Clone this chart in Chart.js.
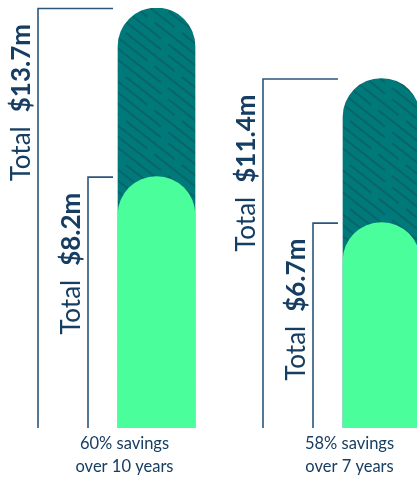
<!DOCTYPE html>
<html>
<head>
<meta charset="utf-8">
<script src="https://cdn.jsdelivr.net/npm/chart.js@4.4.1/dist/chart.umd.min.js"></script>
<style>
  html, body { margin: 0; padding: 0; background: #fff; overflow: hidden; }
  #wrap { width: 417px; height: 478px; overflow: hidden; }
</style>
</head>
<body>
<div id="wrap"><canvas id="chart" width="500" height="478"></canvas></div>
<script>
const categories = ["10 years", "7 years"]
const totalCost = [13.7, 11.4]
const withSavings = [8.2, 6.7]
const savingsLines = [["60% savings", "over 10 years"], ["58% savings", "over 7 years"]]

const navy = "#163d62"
const bracketColor = "#2b5679"

// diagonal dashed hatch for the total bars
const makeHatch = () => {
  const tile = document.createElement("canvas")
  const w = 56, h = 44
  tile.width = w
  tile.height = h
  const c = tile.getContext("2d")
  c.fillStyle = "#00797a"
  c.fillRect(0, 0, w, h)
  c.strokeStyle = "#0a656a"
  c.lineWidth = 2
  const period = Math.hypot(w, h)
  const offsets = [0, 35, 18, 53]
  c.setLineDash([period - 9, 9])
  for (let k = -10; k <= 10; k++) {
    c.lineDashOffset = offsets[((k % 4) + 4) % 4]
    c.beginPath()
    c.moveTo(14 * k - 2 * w, -2 * h)
    c.lineTo(14 * k + 2 * w, 2 * h)
    c.stroke()
  }
  return c.createPattern(tile, "repeat")
}

const ctx = document.getElementById("chart").getContext("2d")

const drawLabel = (c, x, y, regular, bold, size) => {
  c.save()
  c.translate(x, y)
  c.rotate(-Math.PI / 2)
  c.textAlign = "right"
  c.textBaseline = "alphabetic"
  c.fillStyle = navy
  c.font = "bold " + size + "px Lato"
  c.fillText(bold, 0, 0)
  const bw = c.measureText(bold).width
  c.font = size + "px Lato"
  c.fillText(regular, -bw - 14, 0)
  c.restore()
}

const bracketPlugin = {
  id: "brackets",
  afterDatasetsDraw(chart) {
    const c = chart.ctx
    const xs = chart.scales.x
    const ys = chart.scales.y
    const bottom = ys.getPixelForValue(0)
    const half = 38.5
    categories.forEach((cat, i) => {
      const left = xs.getPixelForValue(i) - half
      const items = [[totalCost[i], 80], [withSavings[i], 30]]
      items.forEach(([val, dist]) => {
        const y = ys.getPixelForValue(val)
        const xv = left - dist
        c.save()
        c.strokeStyle = bracketColor
        c.lineWidth = 1.6
        c.beginPath()
        c.moveTo(left - 5, y + 0.5)
        c.lineTo(xv, y + 0.5)
        c.lineTo(xv, bottom)
        c.stroke()
        c.restore()
        drawLabel(c, xv - 8, y + 16, "Total", "$" + val.toFixed(1) + "m", 26)
      })
      // caption under the bar
      c.save()
      c.fillStyle = navy
      c.font = "16.5px Lato"
      c.textAlign = "center"
      c.textBaseline = "alphabetic"
      const cx = xs.getPixelForValue(i) - 32
      savingsLines[i].forEach((line, j) => c.fillText(line, cx, 449 + j * 23))
      c.restore()
    })
  }
}

new Chart(ctx, {
  type: "bar",
  data: {
    labels: categories,
    datasets: [
      {
        label: "With savings",
        data: withSavings,
        backgroundColor: "#4aff9b",
        borderRadius: { topLeft: 38.5, topRight: 38.5 },
        borderSkipped: "start",
        barThickness: 77,
        grouped: false,
        order: 0
      },
      {
        label: "Total",
        data: totalCost,
        backgroundColor: makeHatch(),
        borderRadius: { topLeft: 38.5, topRight: 38.5 },
        borderSkipped: "start",
        barThickness: 77,
        grouped: false,
        order: 1
      }
    ]
  },
  options: {
    responsive: false,
    animation: false,
    layout: { padding: { left: 44, right: 6, top: 8, bottom: 50 } },
    plugins: { legend: { display: false }, tooltip: { enabled: false } },
    scales: {
      x: { display: false },
      y: { display: false, min: 0, max: 13.7 }
    }
  },
  plugins: [bracketPlugin]
})
</script>
</body>
</html>
